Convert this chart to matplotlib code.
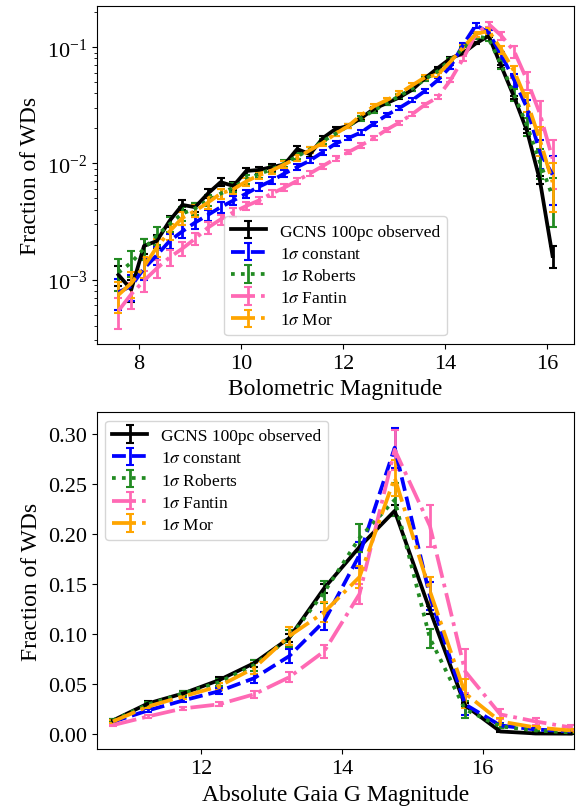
import numpy as np
from matplotlib import pyplot as plt

plt.rcParams['font.family'] = 'serif'
plt.rcParams['font.serif'] = ['Liberation Serif', 'DejaVu Serif']
plt.rcParams['mathtext.fontset'] = 'stix'

# ---- top panel: bolometric magnitude (log) ----
mbol = [7.60, 7.85, 8.10, 8.35, 8.60, 8.85, 9.10, 9.35, 9.60, 9.85,
        10.10, 10.35, 10.60, 10.85, 11.10, 11.35, 11.60, 11.85, 12.10, 12.35,
        12.60, 12.85, 13.10, 13.35, 13.60, 13.85, 14.10, 14.35, 14.60, 14.85,
        15.10, 15.35, 15.60, 15.85, 16.10]

obs_bol = [1.1e-3, 8.2e-4, 1.95e-3, 2.15e-3, 3.2e-3, 4.4e-3, 4.2e-3, 5.5e-3, 6.9e-3, 6.4e-3,
           8.6e-3, 8.8e-3, 9.3e-3, 9.8e-3, 1.33e-2, 1.2e-2, 1.65e-2, 1.98e-2, 2.1e-2, 2.45e-2,
           2.95e-2, 3.3e-2, 3.7e-2, 4.3e-2, 5.4e-2, 6.6e-2, 8.0e-2, 8.9e-2, 0.108, 0.125,
           0.068, 0.037, 0.019, 0.0072, 0.0016]
obs_bol_err = [2.1e-4, 1.8e-4, 2.8e-4, 2.9e-4, 3.6e-4, 4.2e-4, 4.1e-4, 4.7e-4, 5.3e-4, 5.1e-4,
               5.9e-4, 5.9e-4, 6.1e-4, 6.3e-4, 7.3e-4, 6.9e-4, 8.1e-4, 8.9e-4, 9.2e-4, 9.9e-4,
               1.09e-3, 1.15e-3, 1.22e-3, 1.31e-3, 1.47e-3, 1.62e-3, 1.79e-3, 1.89e-3, 2.08e-3, 2.24e-3,
               1.65e-3, 1.22e-3, 8.7e-4, 5.4e-4, 3.5e-4]

const_bol = [7.8e-4, 8.8e-4, 1.25e-3, 1.62e-3, 2.15e-3, 2.6e-3, 3.1e-3, 3.6e-3, 4.2e-3, 4.8e-3,
             5.5e-3, 6.3e-3, 7.1e-3, 8.2e-3, 9.3e-3, 1.06e-2, 1.25e-2, 1.48e-2, 1.65e-2, 1.85e-2,
             2.2e-2, 2.6e-2, 3.0e-2, 3.5e-2, 4.2e-2, 5.2e-2, 6.8e-2, 0.105, 0.155, 0.133,
             0.085, 0.052, 0.030, 0.0125, 0.008]
roberts_bol = [1.15e-3, 1.4e-3, 1.85e-3, 2.4e-3, 3.0e-3, 3.7e-3, 4.1e-3, 4.8e-3, 5.5e-3, 6.2e-3,
               7.3e-3, 8.1e-3, 8.9e-3, 1.0e-2, 1.15e-2, 1.32e-2, 1.55e-2, 1.8e-2, 2.1e-2, 2.45e-2,
               2.85e-2, 3.3e-2, 3.8e-2, 4.4e-2, 5.3e-2, 6.2e-2, 7.8e-2, 0.097, 0.125, 0.118,
               0.070, 0.039, 0.021, 0.0103, 0.0052]
fantin_bol = [5.4e-4, 7.5e-4, 9.8e-4, 1.25e-3, 1.55e-3, 1.85e-3, 2.25e-3, 2.8e-3, 3.3e-3, 3.8e-3,
              4.3e-3, 4.8e-3, 5.5e-3, 6.2e-3, 7.1e-3, 8.2e-3, 9.5e-3, 1.1e-2, 1.25e-2, 1.43e-2,
              1.65e-2, 1.95e-2, 2.25e-2, 2.65e-2, 3.2e-2, 3.7e-2, 5.2e-2, 8.0e-2, 0.13, 0.158,
              0.125, 0.092, 0.052, 0.027, 0.011]
mor_bol = [7.4e-4, 9.3e-4, 1.3e-3, 1.9e-3, 2.6e-3, 3.4e-3, 3.9e-3, 4.6e-3, 5.5e-3, 6.0e-3,
           7.0e-3, 7.9e-3, 8.7e-3, 9.8e-3, 1.12e-2, 1.3e-2, 1.5e-2, 1.8e-2, 2.1e-2, 2.6e-2,
           3.1e-2, 3.5e-2, 4.0e-2, 4.7e-2, 5.5e-2, 5.8e-2, 7.5e-2, 0.100, 0.130, 0.138,
           0.095, 0.062, 0.034, 0.016, 0.0069]
# fractional 1 sigma spread of the model curves
model_bol_relerr = [0.30, 0.25, 0.20, 0.18, 0.15, 0.13, 0.12, 0.11, 0.10, 0.09,
                    0.08, 0.075, 0.07, 0.065, 0.06, 0.055, 0.05, 0.05, 0.045, 0.045,
                    0.04, 0.04, 0.04, 0.04, 0.04, 0.04, 0.04, 0.045, 0.05, 0.05,
                    0.08, 0.12, 0.18, 0.28, 0.45]

# ---- bottom panel: absolute Gaia G magnitude (linear) ----
mg = [10.75, 11.25, 11.75, 12.25, 12.75, 13.25, 13.75, 14.25, 14.75, 15.25,
      15.75, 16.25, 16.75, 17.25]

obs_g = [0.014, 0.031, 0.041, 0.054, 0.071, 0.096, 0.146, 0.187, 0.223, 0.124,
         0.029, 0.003, 0.001, 0.0008]
obs_g_err = [0.0015, 0.002, 0.0025, 0.003, 0.0033, 0.0038, 0.0045, 0.005, 0.0055, 0.004,
             0.002, 0.0007, 0.0004, 0.0003]
const_g = [0.0127, 0.024, 0.034, 0.043, 0.056, 0.078, 0.113, 0.179, 0.286, 0.138,
           0.030, 0.009, 0.005, 0.003]
roberts_g = [0.014, 0.030, 0.041, 0.052, 0.069, 0.096, 0.142, 0.196, 0.234, 0.096,
             0.025, 0.008, 0.004, 0.002]
fantin_g = [0.0093, 0.018, 0.026, 0.030, 0.040, 0.057, 0.083, 0.140, 0.284, 0.208,
            0.063, 0.020, 0.013, 0.007]
mor_g = [0.013, 0.028, 0.038, 0.048, 0.066, 0.098, 0.122, 0.157, 0.256, 0.143,
         0.041, 0.013, 0.007, 0.004]
model_g_relerr = [0.10, 0.07, 0.06, 0.07, 0.08, 0.09, 0.08, 0.07, 0.07, 0.10,
                  0.35, 0.25, 0.25, 0.30]

labels = ['GCNS 100pc observed', r'1$\sigma$ constant', r'1$\sigma$ Roberts',
          r'1$\sigma$ Fantin', r'1$\sigma$ Mor']
colors = ['black', 'blue', 'forestgreen', 'hotpink', 'orange']
styles = ['-', '--', ':', '-.', '-.']


def draw(ax, x, obs, obs_err, models, relerr):
    kw = dict(lw=2.7, elinewidth=2, capsize=3, capthick=1.5)
    ax.errorbar(x, obs, yerr=obs_err, color=colors[0], ls=styles[0],
                label=labels[0], **kw)
    for i, m in enumerate(models):
        m = np.array(m)
        ax.errorbar(x, m, yerr=m * np.array(relerr), color=colors[i + 1],
                    ls=styles[i + 1], label=labels[i + 1], **kw)


fig = plt.figure(figsize=(5.76, 8.12), dpi=100)
ax1 = fig.add_axes([0.168, 0.575, 0.829, 0.416])
ax2 = fig.add_axes([0.168, 0.076, 0.829, 0.415])

draw(ax1, mbol, obs_bol, obs_bol_err,
     [const_bol, roberts_bol, fantin_bol, mor_bol], model_bol_relerr)
ax1.set_yscale('log')
ax1.set_xticks([8, 10, 12, 14, 16])
ax1.set_xlabel('Bolometric Magnitude', fontsize=17)
ax1.set_ylabel('Fraction of WDs', fontsize=17)
ax1.tick_params(labelsize=16)
ax1.legend(loc='lower center', fontsize=12.5, labelspacing=0.35)

draw(ax2, mg, obs_g, obs_g_err,
     [const_g, roberts_g, fantin_g, mor_g], model_g_relerr)
ax2.set_xlim(10.52, 17.3)
ax2.set_xticks([12, 14, 16])
ax2.set_yticks([0.0, 0.05, 0.10, 0.15, 0.20, 0.25, 0.30])
ax2.set_xlabel('Absolute Gaia G Magnitude', fontsize=17)
ax2.set_ylabel('Fraction of WDs', fontsize=17)
ax2.tick_params(labelsize=16)
ax2.legend(loc='upper left', fontsize=12.5, labelspacing=0.35)

fig.savefig('out.png', dpi=100)
